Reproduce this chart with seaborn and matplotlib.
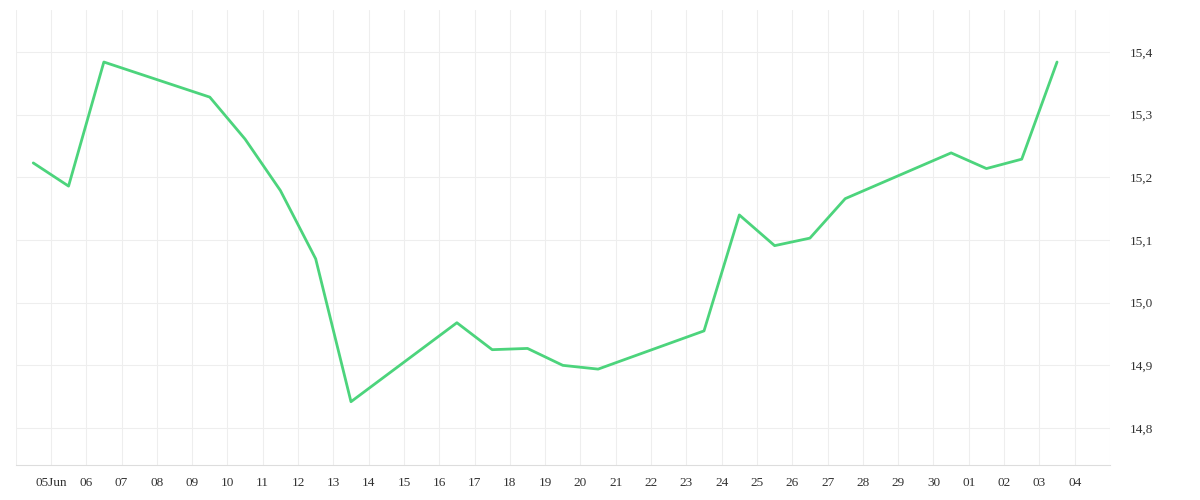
import pandas as pd
import matplotlib
matplotlib.use("Agg")
import matplotlib.pyplot as plt
import matplotlib.dates as mdates
import matplotlib.ticker as mticker
import seaborn as sns

dates = ["2023-06-04 12:00", "2023-06-05 12:00", "2023-06-06 12:00", "2023-06-09 12:00",
         "2023-06-10 12:00", "2023-06-11 12:00", "2023-06-12 12:00", "2023-06-13 12:00",
         "2023-06-16 12:00", "2023-06-17 12:00", "2023-06-18 12:00", "2023-06-19 12:00",
         "2023-06-20 12:00", "2023-06-23 12:00", "2023-06-24 12:00", "2023-06-25 12:00",
         "2023-06-26 12:00", "2023-06-27 12:00", "2023-06-30 12:00", "2023-07-01 12:00",
         "2023-07-02 12:00", "2023-07-03 12:00"]
values = [15.223, 15.186, 15.384, 15.328, 15.261, 15.179, 15.070, 14.842,
          14.968, 14.925, 14.927, 14.900, 14.894, 14.955, 15.140, 15.091,
          15.103, 15.166, 15.239, 15.214, 15.229, 15.384]

df = pd.DataFrame({"date": pd.to_datetime(dates), "value": values})

sns.set_style("white")
plt.rcParams['font.family'] = ['Liberation Serif', 'DejaVu Serif']

fig, ax = plt.subplots(figsize=(12, 5), dpi=100)
fig.subplots_adjust(left=0.013, right=0.925, top=0.98, bottom=0.07)
sns.lineplot(data=df, x="date", y="value", ax=ax, color="#4cd47c", linewidth=2)

ax.set_xlim(pd.Timestamp("2023-06-04"), pd.Timestamp("2023-07-05"))
ax.set_ylim(14.741, 15.467)

ax.xaxis.set_major_locator(mdates.DayLocator())
def fmt_day(x, pos):
    d = mdates.num2date(x)
    if d.month == 6 and d.day == 5:
        return "05Jun"
    if (d.month == 6 and d.day == 4) or (d.month == 7 and d.day == 5):
        return ""
    return d.strftime("%d")
ax.xaxis.set_major_formatter(mticker.FuncFormatter(fmt_day))

ax.yaxis.tick_right()
ax.yaxis.set_major_locator(mticker.MultipleLocator(0.1))
ax.yaxis.set_major_formatter(mticker.FuncFormatter(lambda y, p: f"{y:.1f}".replace(".", ",")))

ax.grid(True, color="#eeeeee", linewidth=0.8)
for s in ["top", "left", "right"]:
    ax.spines[s].set_visible(False)
ax.spines["bottom"].set_color("#dddddd")
ax.tick_params(axis="x", length=5, color="#dddddd", labelsize=9.5, colors="#333333")
ax.tick_params(axis="y", length=0, labelsize=9.5, colors="#333333", pad=14)
ax.set_xlabel("")
ax.set_ylabel("")

plt.savefig("out.png")
